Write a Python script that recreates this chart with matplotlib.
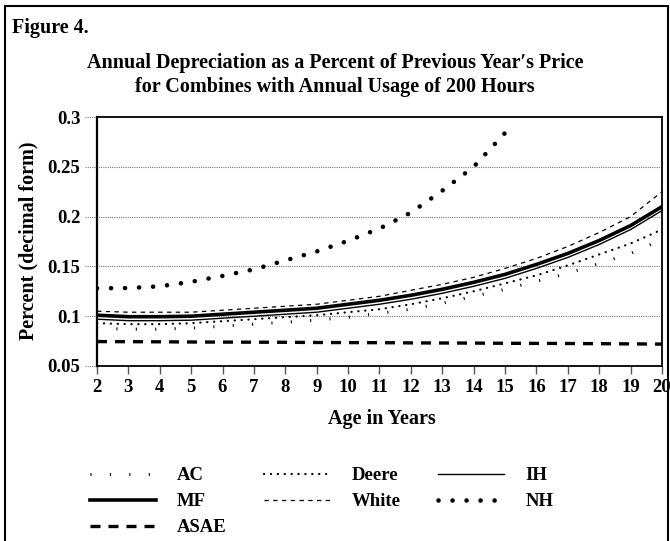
import matplotlib
matplotlib.use('Agg')
import matplotlib.pyplot as plt
from matplotlib.patches import Rectangle

plt.rcParams['font.family'] = ['Liberation Serif', 'DejaVu Serif']
plt.rcParams['font.weight'] = 'bold'

# data
ages = [2, 3, 4, 5, 6, 7, 8, 9, 10, 11, 12, 13, 14, 15, 16, 17, 18, 19, 20]
ac = [0.088, 0.087, 0.087, 0.088, 0.090, 0.092, 0.094, 0.096, 0.099, 0.103,
      0.107, 0.113, 0.120, 0.127, 0.135, 0.143, 0.153, 0.163, 0.177]
mf = [0.101, 0.0995, 0.0995, 0.100, 0.102, 0.104, 0.106, 0.108, 0.112, 0.116,
      0.121, 0.127, 0.134, 0.142, 0.152, 0.163, 0.176, 0.191, 0.210]
asae = [0.0745, 0.0744, 0.0743, 0.0741, 0.0740, 0.0739, 0.0738, 0.0736, 0.0735, 0.0734,
        0.0732, 0.0731, 0.0730, 0.0728, 0.0727, 0.0726, 0.0724, 0.0722, 0.0720]
deere = [0.093, 0.092, 0.092, 0.093, 0.095, 0.097, 0.099, 0.101, 0.104, 0.107,
         0.112, 0.118, 0.125, 0.133, 0.141, 0.151, 0.162, 0.173, 0.187]
white = [0.105, 0.104, 0.104, 0.104, 0.106, 0.108, 0.110, 0.112, 0.116, 0.120,
         0.126, 0.132, 0.139, 0.148, 0.158, 0.170, 0.184, 0.200, 0.225]
ih = [0.097, 0.0955, 0.0955, 0.096, 0.098, 0.100, 0.102, 0.104, 0.108, 0.112,
      0.117, 0.123, 0.130, 0.138, 0.148, 0.159, 0.172, 0.187, 0.206]
nh_ages = [2, 3, 4, 5, 6, 7, 8, 9, 10, 11, 12, 13, 14, 15]
nh = [0.128, 0.1283, 0.130, 0.1345, 0.1405, 0.147, 0.156, 0.165, 0.1757, 0.188,
      0.204, 0.226, 0.250, 0.284]

yticks = [0.05, 0.1, 0.15, 0.2, 0.25, 0.3]
ytick_labels = ['0.05', '0.1', '0.15', '0.2', '0.25', '0.3']

W, H = 670, 541
fig = plt.figure(figsize=(W / 100, H / 100), dpi=100)
ax = fig.add_axes([97 / W, 1 - 366 / H, 565 / W, 249 / H])

# grid lines, running a little past the left axis
for v in yticks[1:-1]:
    ax.plot([-0.022, 1], [v, v], transform=ax.get_yaxis_transform(), clip_on=False,
            color='#777777', lw=0.8, ls=(0, (1, 1)), zorder=0.5)
for v in [yticks[0], yticks[-1]]:
    ax.plot([-0.022, 0], [v, v], transform=ax.get_yaxis_transform(), clip_on=False,
            color='#777777', lw=0.8, ls=(0, (1, 1)), zorder=0.5)

ax.plot(ages, ac, color='black', lw=2.2, ls=(0, (0.35, 6.0)), dash_capstyle='butt', label='AC')
ax.plot(ages, mf, color='black', lw=2.6, label='MF')
ax.plot(ages, asae, color='black', lw=2.4, ls=(0, (3.0, 2.4)), dash_capstyle='butt', label='ASAE')
ax.plot(ages, deere, color='black', lw=1.6, ls=(0, (0.1, 3.0)), dash_capstyle='round', label='Deere')
ax.plot(ages, white, color='black', lw=0.9, ls=(0, (3.5, 3.5)), dash_capstyle='butt', label='White')
ax.plot(ages, ih, color='black', lw=1.0, label='IH')
ax.plot(nh_ages, nh, color='black', lw=3.3, ls=(0, (0.01, 3.05)), dash_capstyle='round', label='NH')

ax.set_xlim(2, 20)
ax.set_ylim(0.05, 0.3)
ax.set_xticks(ages)
ax.set_xticklabels([str(a) for a in ages])
ax.set_yticks(yticks)
ax.set_yticklabels(ytick_labels)
ax.tick_params(axis='x', direction='out', length=6, width=1, color='#555555',
               labelsize=13.5, pad=3)
ax.tick_params(axis='y', length=0, labelsize=13.5, pad=12)

for s in ['top', 'right', 'bottom']:
    ax.spines[s].set_linewidth(1.3)
ax.spines['left'].set_linewidth(1.6)

fig.text(12 / W, 1 - 33 / H, 'Figure 4.', fontsize=14.5, ha='left', va='baseline')
fig.text(335 / W, 1 - 68 / H, 'Annual Depreciation as a Percent of Previous Year\u2032s Price',
         fontsize=14.5, ha='center', va='baseline')
fig.text(335 / W, 1 - 92 / H, 'for Combines with Annual Usage of 200 Hours',
         fontsize=14.5, ha='center', va='baseline')
fig.text(382 / W, 1 - 424 / H, 'Age in Years', fontsize=14.5, ha='center', va='baseline')
fig.text(28 / W, 1 - 241 / H, 'Percent (decimal form)', fontsize=14.5, rotation=90,
         ha='center', va='center')

fig.legend(loc='upper left', bbox_to_anchor=(90 / W, 1 - 467 / H), ncol=3, frameon=False,
           fontsize=13.5, handlelength=3.5, handletextpad=1.15, columnspacing=2.0,
           labelspacing=0.48, borderpad=0, borderaxespad=0)

# outer border of the figure
fig.patches.append(Rectangle((5 / W, -0.01), 663 / W, 1.01 - 6 / H, transform=fig.transFigure,
                             fill=False, edgecolor='black', lw=1.5))

fig.savefig('out.png', dpi=100)
